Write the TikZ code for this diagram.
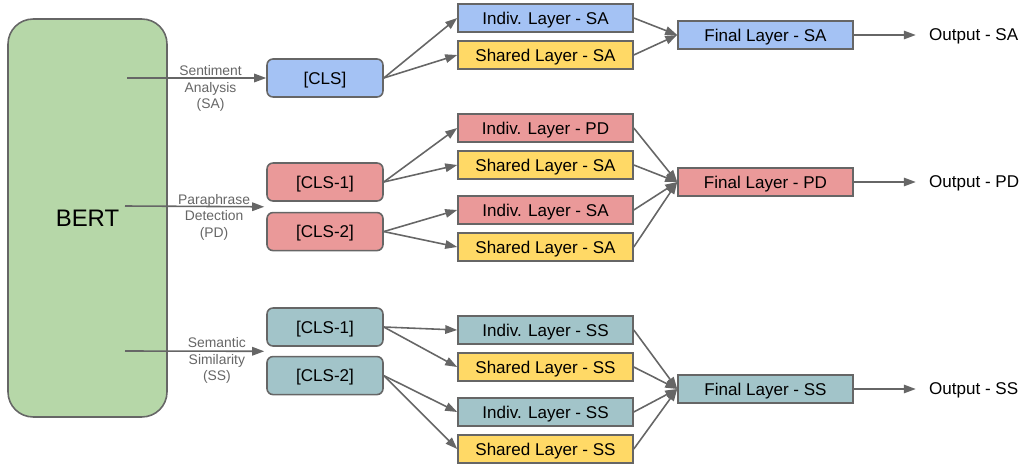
\documentclass[tikz,border=0pt]{standalone}
\usepackage{fontspec}
\setmainfont{Liberation Sans}
\usepackage{tikz}
\usetikzlibrary{positioning}
\usetikzlibrary{calc,arrows.meta}

\definecolor{linegray}{HTML}{666666}
\definecolor{bertgreen}{HTML}{B6D7A8}
\definecolor{sablue}{HTML}{A4C2F4}
\definecolor{pdred}{HTML}{EA9999}
\definecolor{ssteal}{HTML}{A2C4C9}
\definecolor{sharedyellow}{HTML}{FFD966}

\begin{document}
\begin{tikzpicture}[x=0.02cm,y=-0.02cm]

\tikzstyle{box}=[draw=linegray,line width=0.9pt,font=\fontsize{9.7}{11}\selectfont,inner sep=0pt,text depth=0pt]
\tikzstyle{cls}=[box,rounded corners=0.12cm,minimum width=2.32cm,minimum height=0.76cm]
\tikzstyle{layer}=[box,minimum width=3.5cm,minimum height=0.56cm]
\tikzstyle{conn}=[draw=linegray,line width=0.9pt,-{Triangle[length=0.24cm,width=0.17cm]}]
\tikzstyle{task}=[font=\fontsize{7.9}{9.4}\selectfont,text=linegray,align=center]
\tikzstyle{output}=[font=\fontsize{9.7}{11}\selectfont,inner xsep=0.26cm,anchor=west,text depth=0pt]

   \useasboundingbox (0,0) rectangle (1021,466);

   %draw BERT
   \node (bert) [draw=linegray,line width=0.9pt,fill=bertgreen,rounded corners=0.5cm,minimum width=3.18cm,minimum height=7.96cm,font=\fontsize{13.6}{16}\selectfont] at (87.5,218) {BERT};

   %CLS tokens
   \node (cls_sa) [cls,fill=sablue] at (325,78) {[CLS]};
   \node (cls1_pd) [cls,fill=pdred] at (325,182) {[CLS-1]};
   \node (cls2_pd) [cls,fill=pdred,below=0.2cm of cls1_pd] {[CLS-2]};
   \node (cls1_ss) [cls,fill=ssteal] at (325,327) {[CLS-1]};
   \node (cls2_ss) [cls,fill=ssteal,below=0.18cm of cls1_ss] {[CLS-2]};

   %layers
   \node (indiv_sa) [layer,fill=sablue] at (545.5,18) {Indiv. Layer - SA};
   \node (shared_sa) [layer,fill=sharedyellow] at (545.5,55) {Shared Layer - SA};

   \node (indiv_pd1) [layer,fill=pdred] at (545.5,128) {Indiv. Layer - PD};
   \node (shared_pd1) [layer,fill=sharedyellow] at (545.5,165) {Shared Layer - SA};
   \node (indiv_pd2) [layer,fill=pdred] at (545.5,210) {Indiv. Layer - SA};
   \node (shared_pd2) [layer,fill=sharedyellow] at (545.5,247) {Shared Layer - SA};

   \node (indiv_ss1) [layer,fill=ssteal] at (545.5,330) {Indiv. Layer - SS};
   \node (shared_ss1) [layer,fill=sharedyellow] at (545.5,367) {Shared Layer - SS};
   \node (indiv_ss2) [layer,fill=ssteal] at (545.5,412) {Indiv. Layer - SS};
   \node (shared_ss2) [layer,fill=sharedyellow] at (545.5,449) {Shared Layer - SS};

   \node (final_sa) [layer,fill=sablue] at (765.5,35) {Final Layer - SA};
   \node (final_pd) [layer,fill=pdred] at (765.5,182) {Final Layer - PD};
   \node (final_ss) [layer,fill=ssteal] at (765.5,389) {Final Layer - SS};

   \node (out_sa) [output,right=1.24cm of final_sa] {Output - SA};
   \node (out_pd) [output,right=1.24cm of final_pd] {Output - PD};
   \node (out_ss) [output,right=1.24cm of final_ss] {Output - SS};

   %from BERT to the tokens
   \coordinate (bert_sa) at (127,78);
   \coordinate (bert_pd) at (125,206);
   \coordinate (bert_ss) at (125,351);
   \coordinate (pd_in) at ($(cls1_pd.south west)!0.5!(cls2_pd.north west)+(-0.04cm,0)$);
   \coordinate (ss_in) at ($(cls1_ss.south west)!0.5!(cls2_ss.north west)+(-0.04cm,0)$);

   \draw[conn] (bert_sa) -- (cls_sa.west) node[task,pos=0.6,yshift=-0.21cm] {Sentiment\\Analysis\\(SA)};
   \draw[conn] (bert_pd) -- (pd_in) node[task,pos=0.64,yshift=-0.21cm] {Paraphrase\\Detection\\(PD)};
   \draw[conn] (bert_ss) -- (ss_in) node[task,pos=0.66,yshift=-0.19cm] {Semantic\\Similarity\\(SS)};

   %from the tokens to the layers
   \draw[conn] (cls_sa.east) -- (indiv_sa.west);
   \draw[conn] (cls_sa.east) -- (shared_sa.west);
   \draw[conn] (cls1_pd.east) -- (indiv_pd1.west);
   \draw[conn] (cls1_pd.east) -- (shared_pd1.west);
   \draw[conn] (cls2_pd.east) -- (indiv_pd2.west);
   \draw[conn] (cls2_pd.east) -- (shared_pd2.west);
   \draw[conn] (cls1_ss.east) -- (indiv_ss1.west);
   \draw[conn] (cls1_ss.east) -- (shared_ss1.west);
   \draw[conn] (cls2_ss.east) -- (indiv_ss2.west);
   \draw[conn] (cls2_ss.east) -- (shared_ss2.west);

   %into the final layers
   \foreach \n in {indiv_sa,shared_sa}
     \draw[conn] (\n.east) -- (final_sa.west);
   \foreach \n in {indiv_pd1,shared_pd1,indiv_pd2,shared_pd2}
     \draw[conn] (\n.east) -- (final_pd.west);
   \foreach \n in {indiv_ss1,shared_ss1,indiv_ss2,shared_ss2}
     \draw[conn] (\n.east) -- (final_ss.west);

   \draw[conn] (final_sa) -- (out_sa);
   \draw[conn] (final_pd) -- (out_pd);
   \draw[conn] (final_ss) -- (out_ss);

\end{tikzpicture}
\end{document}
